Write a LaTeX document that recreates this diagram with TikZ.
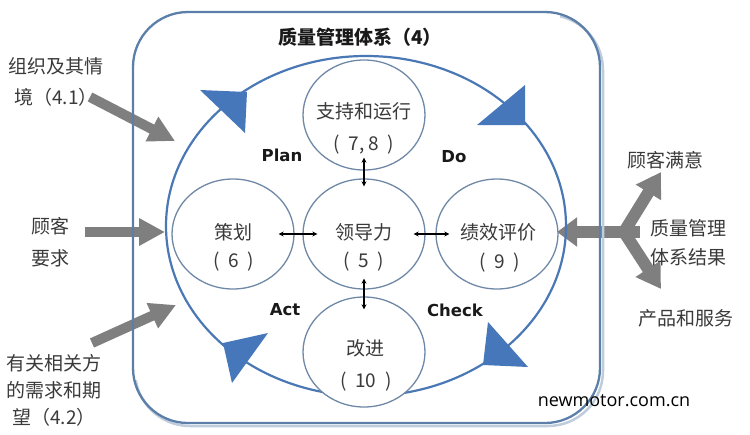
\documentclass[tikz,border=0pt]{standalone}
\usepackage{fontspec}
\setmainfont{Noto Sans CJK SC}
\newfontfamily\pdcafont{DejaVu Sans}
\newfontfamily\wmfont{Open Sans}
\usetikzlibrary{arrows.meta,shapes.geometric}
\definecolor{rimblue}{HTML}{5B7FA8}
\definecolor{rimshade}{HTML}{BFCCDB}
\definecolor{loopblue}{HTML}{4A78B4}
\definecolor{tribl}{HTML}{4677BB}
\definecolor{ringc}{HTML}{6F88A6}
\definecolor{arrgray}{HTML}{7F7F7F}
\definecolor{txt}{HTML}{3A3A3A}
\begin{document}
\begin{tikzpicture}[x=1pt,y=-1pt,
  cjk/.style={font=\fontsize{19}{22}\selectfont, text=txt, inner sep=0pt},
  pdca/.style={font=\pdcafont\bfseries\fontsize{16.5}{19}\selectfont, text=black!90, inner sep=0pt},
  ring/.style={ellipse, draw=ringc, line width=1.3pt, fill=white, minimum width=122pt, minimum height=110pt, inner sep=0pt},
  tri/.style={fill=tribl, draw=none},
  link/.style={line width=1.1pt, {Stealth[length=5pt,width=5pt]}-{Stealth[length=5pt,width=5pt]}},
  fat/.style={draw=arrgray, line width=10pt, -{Triangle[length=26pt,width=26pt]}},
  fatr/.style={draw=arrgray, line width=12pt, -{Triangle[length=24pt,width=28pt]}},
]
\useasboundingbox (0,0) rectangle (750,434);

% grey input / output arrows
\coordinate (o1s) at (90,97);   \coordinate (o1e) at (175,141);
\coordinate (o2s) at (85,232);  \coordinate (o2e) at (165,232);
\coordinate (o3s) at (92,343);  \coordinate (o3e) at (176,305);
\draw[fat] (o1s) -- (o1e);
\draw[fat] (o2s) -- (o2e);
\draw[fat] (o3s) -- (o3e);
\coordinate (rj) at (640,232); \coordinate (rl) at (557,232);
\coordinate (rb) at (624,232);
\coordinate (ru) at (661,172); \coordinate (rd) at (661,289);
\draw[fatr, -{Triangle[length=20pt,width=28pt]}] (rj) -- (rl);
\draw[fatr] (rb) -- (ru);
\draw[fatr] (rb) -- (rd);

% outer rounded frame with a soft shadow on the right and bottom
\begin{scope}
  \clip (560,0) rectangle (750,434) (0,380) rectangle (750,434);
  \draw[rimshade, line width=2.5pt, rounded corners=55pt] (135,15) rectangle (603,426);
\end{scope}
\draw[rimblue, line width=2.3pt, rounded corners=55pt] (133,12) rectangle (600,423);

% PDCA loop
\draw[loopblue, line width=2.2pt] (366,226) ellipse [x radius=200pt, y radius=170pt];
\fill[tri] (200,90) -- (247,92) -- (245,133) -- cycle;
\fill[tri] (525,85) -- (477,125) -- (525,125) -- cycle;
\fill[tri] (488,322) -- (528,367) -- (483,365) -- cycle;
\fill[tri] (268,333) -- (223,343) -- (232,383) -- cycle;

% circles
\node[ring] (zc) at (364,115) {};
\node[ring] (ch) at (233,234) {};
\node[ring] (ld) at (364,234) {};
\node[ring] (jx) at (497,234) {};
\node[ring] (gj) at (364,352) {};

% links
\draw[link, shorten <=-16pt, shorten >=-15pt] (ch.east) -- (ld.west);
\draw[link, shorten <=-12pt, shorten >=-14pt] (ld.east) -- (jx.west);
\draw[link, shorten <=-13pt, shorten >=-8pt] (zc.south) -- (ld.north);
\draw[link, shorten <=-11pt, shorten >=-13pt] (ld.south) -- (gj.north);

% circle texts
\node[cjk] (zct) at (364,111) {支持和运行};
\node[cjk] (zcn) at (364,145) {(\hspace{0.45em}7,\hspace{0.2em}8\hspace{0.45em})};
\node[cjk] (cht) at (233,232) {策划};
\node[cjk] (chn) at (234,262) {(\hspace{0.45em}6\hspace{0.45em})};
\node[cjk] (ldt) at (364,232) {领导力};
\node[cjk] (ldn) at (364,262) {(\hspace{0.45em}5\hspace{0.45em})};
\node[cjk] (jxt) at (498,232) {绩效评价};
\node[cjk] (jxn) at (500,263) {(\hspace{0.45em}9\hspace{0.45em})};
\node[cjk] (gjt) at (365,348) {改进};
\node[cjk] (gjn) at (366,382) {(\hspace{0.45em}10\hspace{0.45em})};

% title and PDCA labels
\node[cjk, text=black!90, font=\bfseries\fontsize{19}{22}\selectfont] (title) at (360,37) {质量管理体系（4）};
\node[pdca] (plan) at (282,155) {Plan};
\node[pdca] (do) at (454,157) {Do};
\node[pdca] (act) at (285,310) {Act};
\node[pdca] (check) at (455,310) {Check};

% outside labels
\node[cjk, align=center, font=\fontsize{19}{31}\selectfont] (in1) at (56,82) {组织及其情\\境（4.1）};
\node[cjk, align=center, font=\fontsize{19}{32}\selectfont] (in2) at (50,242) {顾客\\要求};
\node[cjk, align=center, font=\fontsize{19}{27}\selectfont] (in3) at (54,390) {有关相关方\\的需求和期\\望（4.2）};
\node[cjk] (out1) at (665,160) {顾客满意};
\node[cjk, align=center, font=\fontsize{19}{29}\selectfont] (out2) at (688,243) {质量管理\\体系结果};
\node[cjk] (out3) at (686,318) {产品和服务};

% watermark
\node[font=\wmfont\fontsize{18}{20}\selectfont, text=black, inner sep=0pt] (wm) at (614,401) {newmotor.com.cn};
\end{tikzpicture}
\end{document}
